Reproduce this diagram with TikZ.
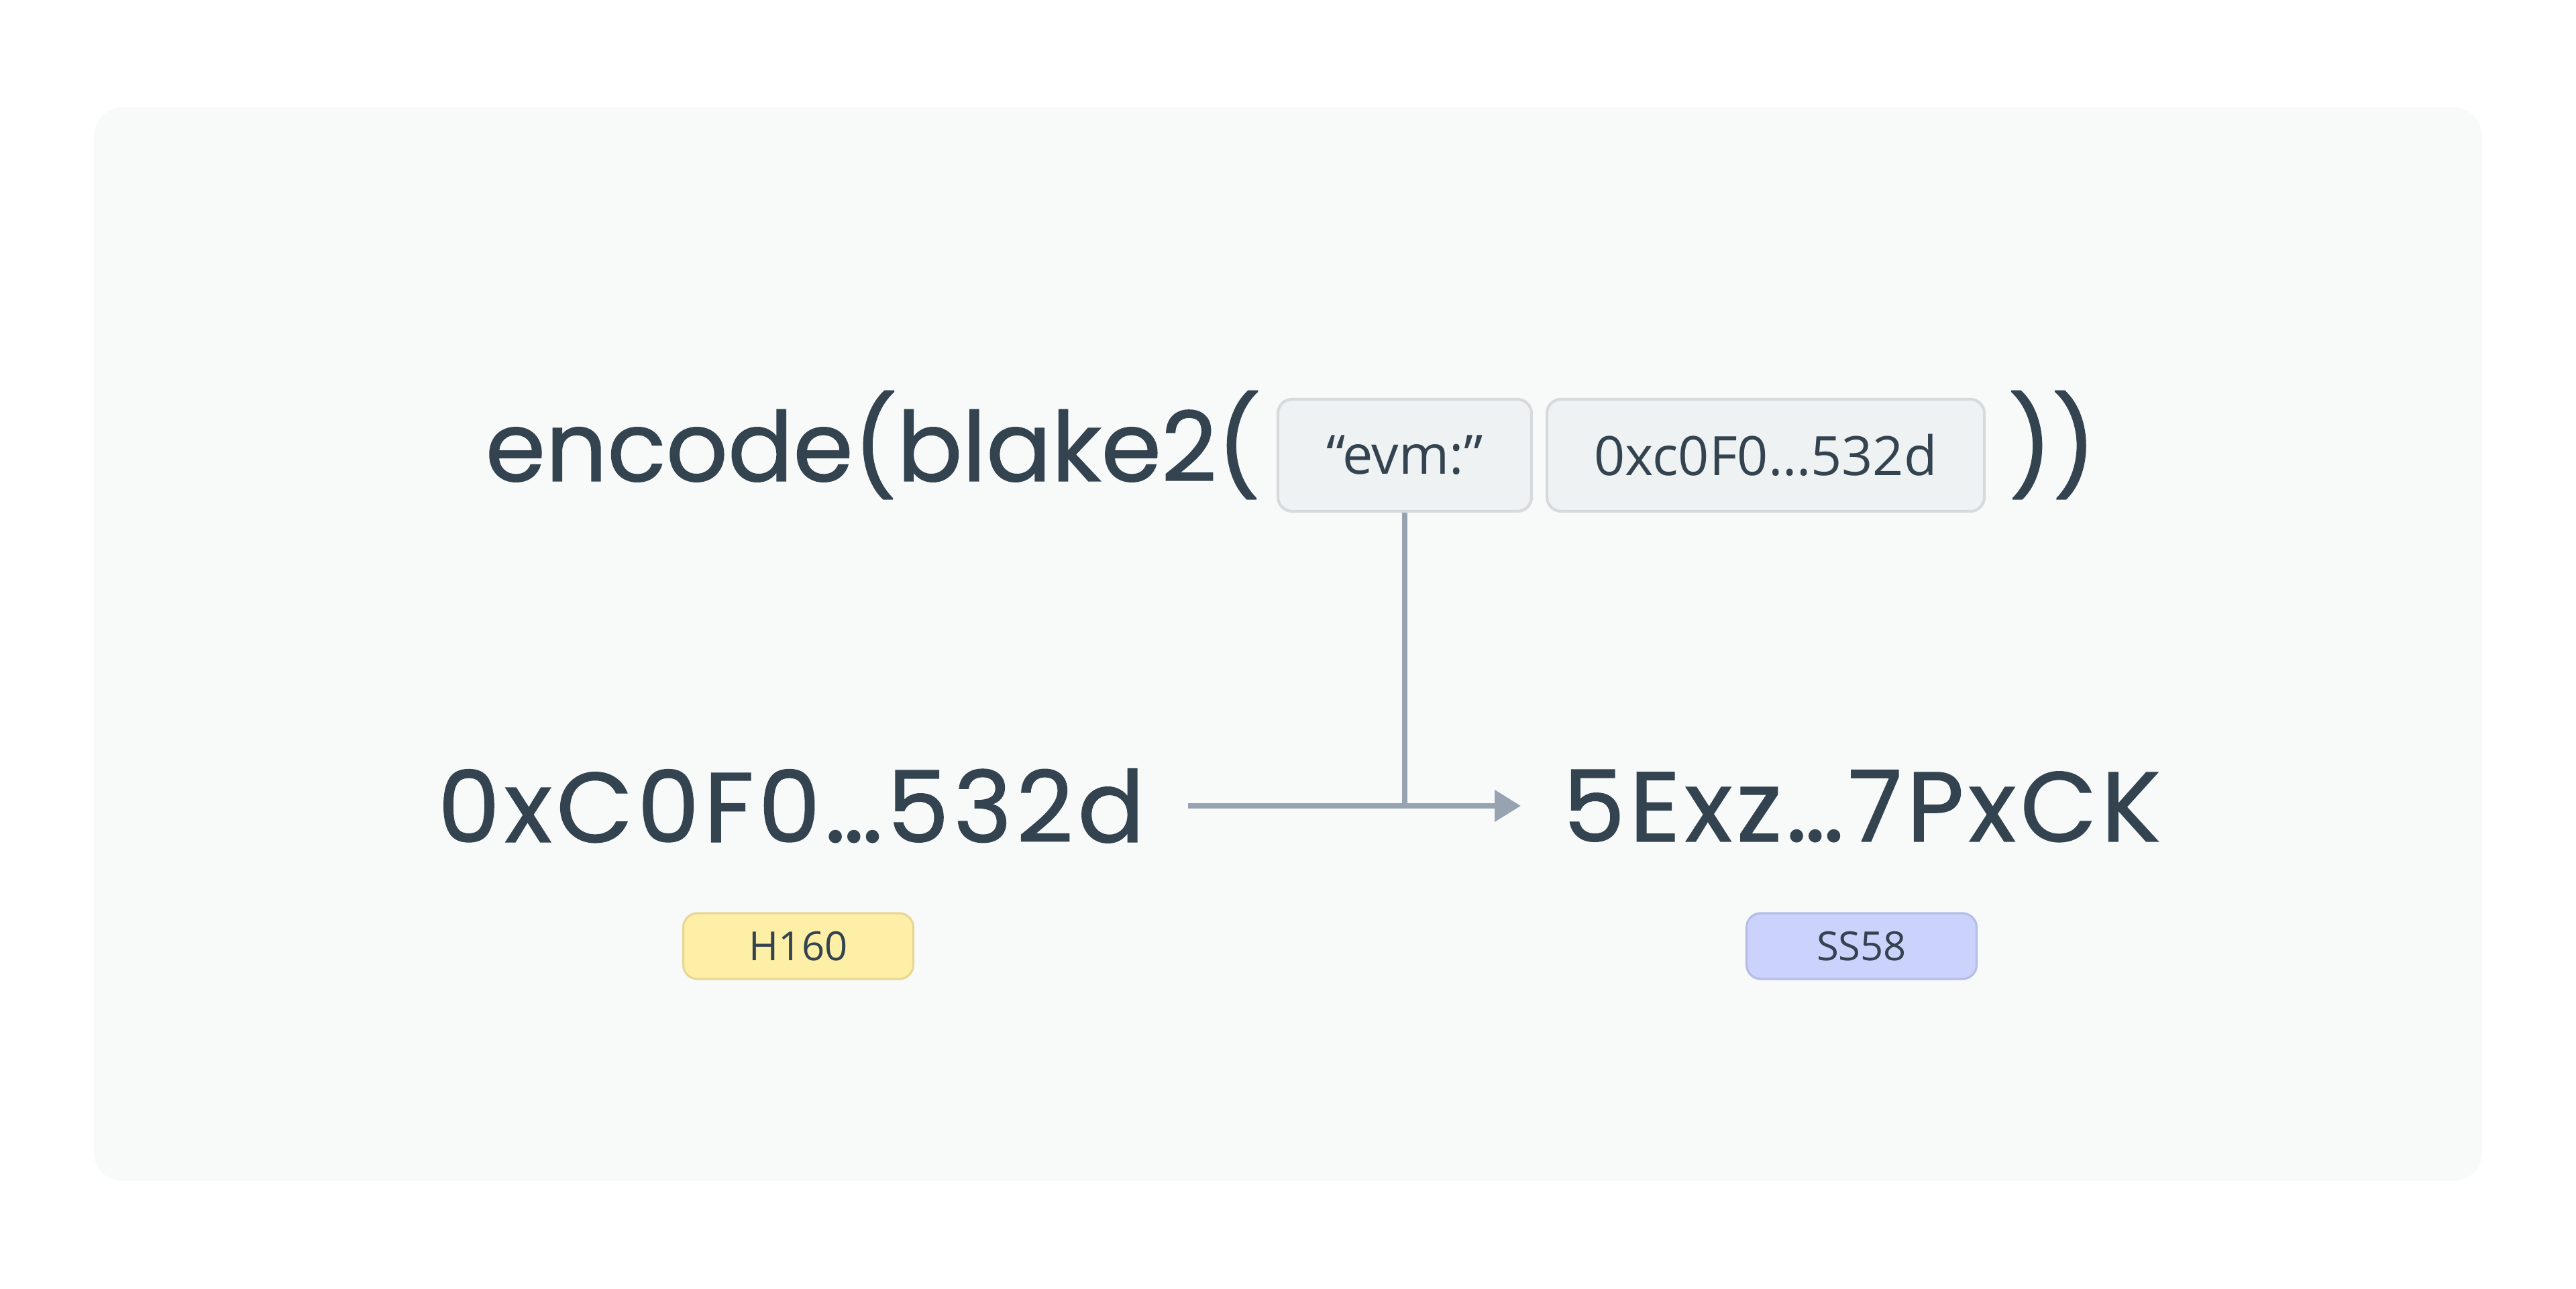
\documentclass[tikz,border=0pt]{standalone}
\usepackage{fontspec}
\setmainfont{Open Sans}
\newfontfamily\codefont{Poppins}[FakeBold=1]
\newfontfamily\hashfont{Poppins}[FakeBold=1,LetterSpace=4.5]
\usetikzlibrary{arrows.meta,positioning}
\definecolor{panel}{HTML}{F8FAFA}
\definecolor{ink}{HTML}{33434F}
\definecolor{argfill}{HTML}{EFF2F3}
\definecolor{argline}{HTML}{D6DADC}
\definecolor{wire}{HTML}{97A3B1}
\definecolor{hfill}{HTML}{FEEFA6}
\definecolor{hline}{HTML}{E6D796}
\definecolor{sfill}{HTML}{CBD3FD}
\definecolor{sline}{HTML}{B5BDE6}
\begin{document}
\begin{tikzpicture}[
  big/.style={inner sep=0,text=ink,font=\codefont\fontsize{41}{50}\selectfont},
  hash/.style={big,font=\hashfont\fontsize{42}{50}\selectfont},
  arg/.style={draw=argline,fill=argfill,line width=1.2pt,rounded corners=6pt,text=ink,
    font=\fontsize{23}{28}\selectfont,minimum height=1.67cm,inner sep=0},
  tag/.style={line width=.9pt,rounded corners=6pt,text=ink,font=\fontsize{17}{20}\selectfont,
    minimum width=3.43cm,minimum height=.98cm,inner sep=0},
  wire/.style={draw=wire,line width=2.2pt}]
  \useasboundingbox (0,0) rectangle (38.4,19.2);
  \fill[panel,rounded corners=12pt] (1.4,1.6) rectangle (37,17.6);%card
  \node[arg,minimum width=3.78cm] (prefix) at (20.94,12.415) {“evm:”};
  \node[arg,minimum width=6.52cm] (addr) at (26.32,12.415) {0xc0F0…532d};
  \node[big,anchor=base east] (call) at (18.80,12.03) {encode(blake2(};
  \node[big,anchor=base west] (close) at (29.93,12.03) {))};
  \node[hash,anchor=east] (h160) at (17.07,7.19) {0xC0F0…532d};
  \node[hash,anchor=west] (ss58) at (23.29,7.19) {5Exz…7PxCK};
  \node[tag,draw=hline,fill=hfill] (htag) at (11.9,5.1) {H160};
  \node[tag,draw=sline,fill=sfill] (stag) at (27.75,5.1) {SS58};
  \draw[wire,-{Triangle[length=.39cm,width=.46cm]},shorten <=.64cm,shorten >=.62cm] (h160) -- (ss58);
  \draw[wire] (prefix) -- (prefix |- h160);%prefix joins the hash
\end{tikzpicture}
\end{document}
